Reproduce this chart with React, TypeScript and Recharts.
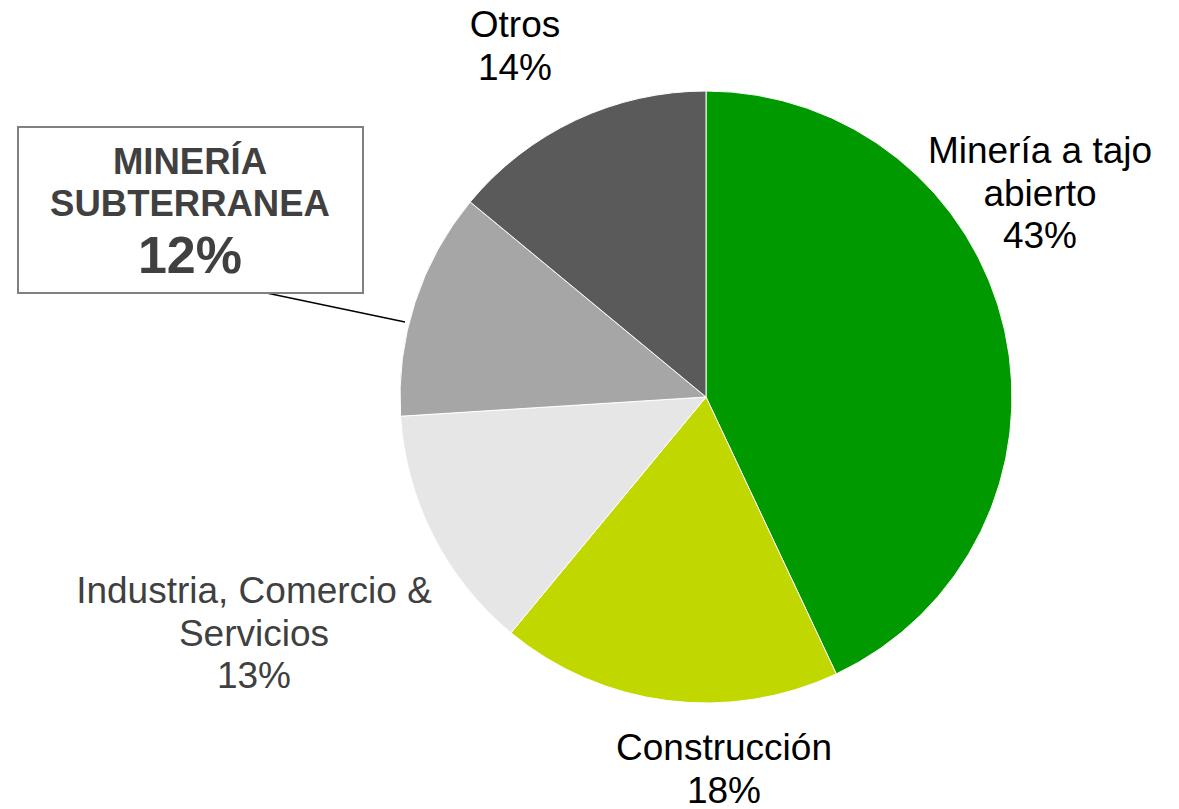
import { PieChart, Pie, Cell } from "recharts";

const sectores = ["Minería a tajo abierto", "Construcción", "Industria, Comercio & Servicios", "MINERÍA SUBTERRANEA", "Otros"];
const porcentajes = [43, 18, 13, 12, 14];
const lineasEtiqueta = [
    ["Minería a tajo", "abierto"],
    ["Construcción"],
    ["Industria, Comercio &", "Servicios"],
    ["MINERÍA", "SUBTERRANEA"],
    ["Otros"],
];
const colores = ["#009900", "#C1D800", "#E6E6E6", "#A6A6A6", "#5A5A5A"];

// posicion de cada etiqueta respecto al centro (x centrado, y = primera linea base)
const posEtiqueta = [
    {dx: 334, dy: -234, color: "#000000"},
    {dx: 18, dy: 363, color: "#000000"},
    {dx: -452, dy: 206, color: "#404040"},
    {dx: -516, dy: -223, color: "#404040"},
    {dx: -191, dy: -360, color: "#000000"},
];

const fuente = "'Liberation Sans', Arial, sans-serif";

const datos = sectores.map((s, i) => ({name: s, value: porcentajes[i]}));

function Etiqueta(props: any) {
    const {cx, cy, index, value} = props;
    const p = posEtiqueta[index];
    const x = cx + p.dx;
    const y = cy + p.dy;
    const lineas = lineasEtiqueta[index];

    if (index === 3) {
        return (
            <g>
                <line x1={cx - 449} y1={cy - 106} x2={cx - 301} y2={cy - 75} stroke="#000" strokeWidth={1.3}/>
                <rect x={cx - 688} y={cy - 270} width={345} height={166} fill="#fff" stroke="#808080" strokeWidth={2}/>
                {lineas.map((l, k) => (
                    <text key={k} x={x} y={y + k * 42} textAnchor="middle" fontFamily={fuente}
                          fontSize={36.5} fontWeight="bold" fill={p.color}>{l}</text>
                ))}
                <text x={x} y={y + 99} textAnchor="middle" fontFamily={fuente}
                      fontSize={52} fontWeight="bold" fill={p.color}>{value}%</text>
            </g>
        );
    }

    return (
        <g>
            {[...lineas, `${value}%`].map((l, k) => (
                <text key={k} x={x} y={y + k * 42.5} textAnchor="middle" fontFamily={fuente}
                      fontSize={37} fill={p.color}>{l}</text>
            ))}
        </g>
    );
}

export default function App() {
    return (
        <div style={{position: "absolute", left: 0, top: 0, background: "#fff"}}>
            <PieChart width={1179} height={809} margin={{top: 0, right: 0, bottom: 0, left: 0}}>
                <Pie
                    data={datos}
                    dataKey="value"
                    cx={706}
                    cy={397}
                    outerRadius={306}
                    startAngle={90}
                    endAngle={-270}
                    stroke="#ffffff"
                    strokeWidth={1}
                    labelLine={false}
                    label={Etiqueta}
                    isAnimationActive={false}
                >
                    {datos.map((d, i) => (
                        <Cell key={d.name} fill={colores[i]}/>
                    ))}
                </Pie>
            </PieChart>
        </div>
    );
}
